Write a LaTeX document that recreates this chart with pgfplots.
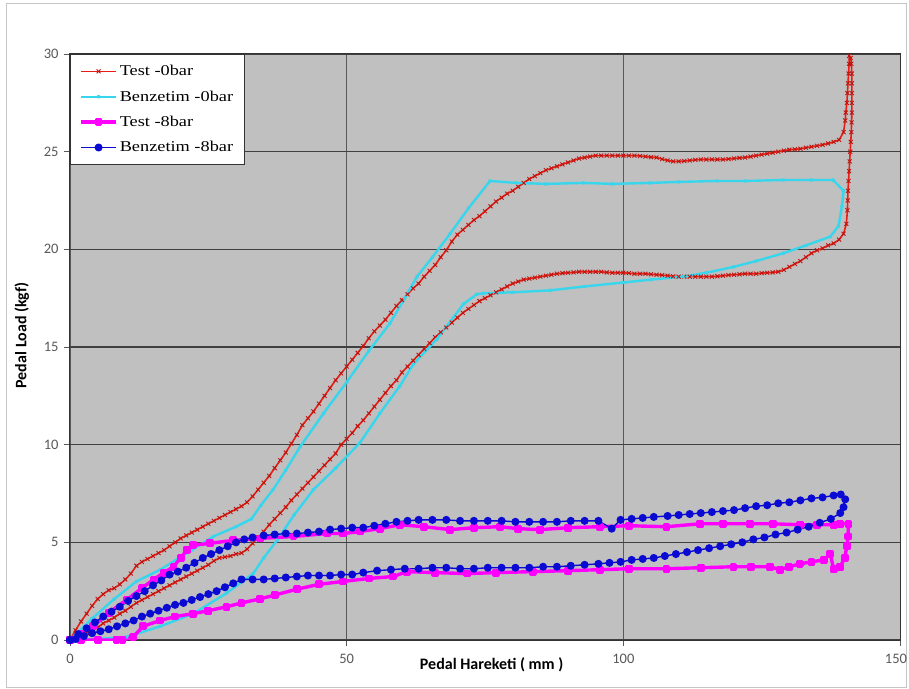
\documentclass[border=0pt]{standalone}
\usepackage{fontspec}
\setmainfont{Carlito}
\newfontfamily\legfont{Liberation Serif}[FakeStretch=1.22]
\usepackage{pgfplots}
\pgfplotsset{compat=1.18}
\definecolor{bg}{RGB}{192,192,192}
\definecolor{tred}{RGB}{232,30,20}
\definecolor{tredm}{RGB}{190,20,15}
\definecolor{bcyan}{RGB}{56,214,236}
\definecolor{tmag}{RGB}{255,0,255}
\definecolor{bblue}{RGB}{10,10,210}
\definecolor{ticklab}{RGB}{89,89,89}
\begin{document}
\begin{tikzpicture}
\useasboundingbox (-70bp,-49bp) rectangle (839bp,640bp);
\fill[white] (-70bp,-49bp) rectangle (839bp,640bp);
\draw[gray!45, line width=1bp] (-63bp,-47bp) rectangle (836bp,636bp);
\begin{axis}[
  scale only axis,
  width=830bp, height=586bp,
  xmin=0, xmax=150, ymin=0, ymax=30,
  xtick={0,50,100,150}, ytick={0,5,10,15,20,25,30},
  xticklabels={0,50,100,{\hbox to 0pt{\hss 150\kern-7bp}}},
  xtick pos=bottom, ytick pos=left,
  tick align=outside, major tick length=6bp,
  tick style={gray!70!black, line width=0.8bp},
  axis background/.style={fill=bg},
  axis line style={gray!40!black, line width=1bp},
  xmajorgrids, ymajorgrids,
  x grid style={gray!70!black, line width=0.8bp},
  y grid style={black!75, line width=1.2bp},
  /pgf/number format/assume math mode=true,
  ticklabel style={font=\fontsize{14.5bp}{17bp}\selectfont, text=ticklab},
  xticklabel style={yshift=-5bp},
  yticklabel style={xshift=-2bp},
  xlabel={Pedal Hareketi ( mm )},
  ylabel={Pedal Load (kgf)},
  label style={font=\fontsize{16bp}{19bp}\selectfont\bfseries},
  xlabel style={at={(axis description cs:0.508,-0.043)}, anchor=center},
  ylabel style={at={(axis description cs:-0.058,0.52)}, anchor=center},
  legend style={at={(0,1)}, anchor=north west, draw=black!80, fill=white,
    font=\legfont\fontsize{15bp}{17bp}\selectfont, inner xsep=9bp, inner ysep=9bp,
    row sep=9.5bp, cells={anchor=west}, line width=0.8bp},
  legend image code/.code={\draw[mark repeat=2,mark phase=2,#1] plot coordinates {(0bp,0bp) (17.5bp,0bp) (35bp,0bp)};},
  every axis plot/.append style={line join=round},
]
% Test - 0bar
\addplot[color=tred, line width=1.6bp, mark=x, mark size=2.8bp, mark options={draw=tredm, line width=0.9bp, solid}] coordinates {
(0,0) (1,0.5) (2,0.95) (3,1.35) (4,1.75) (5,2.1) (6,2.35) (7,2.55) (8,2.65) (9,2.85)
(10,3.1) (11,3.4) (12,3.8) (13,4.0) (14,4.15) (15,4.3) (16,4.45) (17,4.6) (18,4.8) (19,5.0)
(20,5.2) (21,5.35) (22,5.5) (23,5.65) (24,5.8) (25,5.95) (26,6.1) (27,6.25) (28,6.4) (29,6.55)
(30,6.7) (31,6.85) (32,7.05) (33,7.35) (34,7.7) (35,8.05) (36,8.4) (37,8.8) (38,9.2) (39,9.6)
(40,10.05) (41,10.5) (42,11.0) (43,11.35) (44,11.7) (45,12.1) (46,12.5) (47,12.9) (48,13.3) (49,13.65)
(50,14.0) (51,14.35) (52,14.7) (53,15.05) (54,15.45) (55,15.8) (56,16.1) (57,16.4) (58,16.75) (59,17.1)
(60,17.4) (61,17.7) (62,18.0) (63,18.25) (64,18.6) (65,18.9) (66,19.2) (67,19.6) (68,19.95) (69,20.4)
(70,20.75) (71,21.0) (72,21.25) (73,21.5) (74,21.7) (75,21.95) (76,22.2) (77,22.45) (78,22.65) (79,22.85)
(80,23.0) (81,23.2) (82,23.4) (83,23.6) (84,23.75) (85,23.9) (86,24.05) (87,24.15) (88,24.25) (89,24.35)
(90,24.45) (91,24.55) (92,24.65) (93,24.7) (94,24.75) (95,24.8) (96,24.8) (97,24.8) (98,24.8) (99,24.8)
(100,24.8) (101,24.8) (102,24.8) (103,24.78) (104,24.75) (105,24.72) (106,24.7) (107,24.62) (108,24.55) (109,24.5)
(110,24.5) (111,24.52) (112,24.55) (113,24.58) (114,24.6) (115,24.6) (116,24.6) (117,24.6) (118,24.6) (119,24.62)
(120,24.65) (121,24.68) (122,24.7) (123,24.75) (124,24.8) (125,24.85) (126,24.9) (127,24.95) (128,25.0) (129,25.05)
(130,25.1) (131,25.12) (132,25.15) (133,25.2) (134,25.25) (135,25.3) (136,25.35) (137,25.42) (138,25.5) (139,25.6)
(139.8,26.0) (140.1,26.6) (140.2,27) (140.4,27.5) (140.5,28) (140.6,28.5) (140.7,29) (140.8,29.5) (140.8,29.9) (141.1,29.8)
(141.2,29.5) (141.3,29) (141.3,28.5) (141.3,28) (141.3,27.5) (141.3,27) (141.25,26.5) (141.2,26) (141.1,25.5) (141.0,25)
(140.9,24.5) (140.8,24) (140.7,23.5) (140.6,23) (140.55,22.5) (140.5,22) (140.3,21.3) (139.8,20.8) (139,20.5) (138,20.3) (137,20.2) (136,20.05) (135,19.95)
(134,19.8) (133,19.6) (132,19.4) (131,19.25) (130,19.1) (129,18.95) (128,18.85) (127,18.82) (126,18.8) (125,18.78)
(124,18.75) (123,18.75) (122,18.75) (121,18.72) (120,18.7) (119,18.68) (118,18.65) (117,18.62) (116,18.6) (115,18.6)
(114,18.6) (113,18.6) (112,18.6) (111,18.6) (110,18.6) (109,18.62) (108,18.65) (107,18.68) (106,18.7) (105,18.72)
(104,18.75) (103,18.75) (102,18.75) (101,18.78) (100,18.8) (99,18.8) (98,18.8) (97,18.82) (96,18.85) (95,18.85)
(94,18.85) (93,18.85) (92,18.85) (91,18.82) (90,18.8) (89,18.78) (88,18.75) (87,18.7) (86,18.65) (85,18.6)
(84,18.55) (83,18.5) (82,18.45) (81,18.35) (80,18.25) (79,18.1) (78,17.95) (77,17.8) (76,17.65) (75,17.5)
(74,17.35) (73,17.15) (72,16.95) (71,16.75) (70,16.5) (69,16.25) (68,16.0) (67,15.75) (66,15.5) (65,15.2)
(64,14.9) (63,14.6) (62,14.3) (61,14.0) (60,13.7) (59,13.3) (58,13.0) (57,12.65) (56,12.3) (55,11.95)
(54,11.6) (53,11.25) (52,10.95) (51,10.6) (50,10.3) (49,10.0) (48,9.55) (47,9.25) (46,8.95) (45,8.65)
(44,8.35) (43,8.05) (42,7.75) (41,7.45) (40,7.15) (39,6.8) (38,6.5) (37,6.2) (36,5.9) (35,5.55)
(34,5.25) (33,4.95) (32,4.65) (31,4.45) (30,4.4) (29,4.3) (28,4.25) (27,4.2) (26,4.05) (25,3.85)
(24,3.7) (23,3.55) (22,3.4) (21,3.25) (20,3.1) (19,2.95) (18,2.8) (17,2.65) (16,2.5) (15,2.35)
(14,2.2) (13,2.05) (12,1.9) (11,1.7) (10,1.5) (9,1.35) (8,1.15) (7,1.0) (6,0.85) (5,0.65)
(4,0.5) (3,0.35) (2,0.2) (1,0.05) (0,0)
};
\addlegendentry{Test -0bar}
% Benzetim - 0bar
\addplot[color=bcyan, line width=2.4bp, mark=*, mark size=0.8bp, mark options={fill=bcyan!60!gray, draw=none}] coordinates {
(0,0) (4,1.1) (8,2.1) (12,3.0) (16.3,3.6) (22,4.6) (25.9,5.3) (30,5.8) (32.8,6.2) (34.5,6.9)
(36.7,7.7) (39,8.7) (41.6,9.9) (45.8,11.6) (50,13.2) (54,14.8) (57.8,16.2) (60.5,17.5) (62.7,18.6) (65.5,19.6)
(68.7,20.8) (72,22.1) (75.9,23.5) (80.7,23.4) (86,23.35) (92.8,23.4) (98,23.35) (104.8,23.4) (110,23.45) (116.9,23.5)
(122,23.5) (128.9,23.55) (134,23.55) (137.9,23.55) (139.8,23.0) (139.5,22.2) (138.9,21.2) (137.4,20.65) (133,20.2) (128.9,19.8)
(124,19.4) (119.9,19.1) (115,18.8) (110.8,18.6) (105,18.45) (100,18.3) (93,18.1) (86.8,17.9) (80,17.8) (74.7,17.75)
(73.5,17.7) (71.1,17.2) (66.3,15.4) (62,14.1) (59.6,13.0) (56,11.6) (52.4,10.1) (48,8.8) (44,7.7) (40.5,6.4)
(37.4,5.1) (35,4.2) (33.1,3.4) (28.3,2.4) (22.3,1.35) (16.3,0.7) (10.2,0.15) (5,0.05) (0,0)
};
\addlegendentry{Benzetim -0bar}
% Test - 8bar
\addplot[color=tmag, line width=3.4bp, mark=square*, mark size=2.2bp, mark options={solid, draw=tmag, fill=tmag}] coordinates {
(0,0) (2,0.3) (4.2,0.7) (7,1.4) (10.2,2.05) (13,2.65) (15.1,3.1) (17,3.45) (18.7,3.75) (20,4.2)
(21.1,4.6) (22.3,4.85) (25.3,4.95) (29.5,5.1) (34.3,5.2) (40.4,5.3) (46.4,5.45) (49.4,5.45) (52.4,5.55) (56,5.7)
(59.6,5.9) (64,5.8) (68.7,5.65) (73,5.75) (77.7,5.8) (81,5.7) (84.9,5.65) (90,5.75) (95.8,5.8) (101,5.85)
(107.8,5.8) (113.9,5.95) (118,5.95) (122.9,5.95) (127,5.95) (131.9,5.9) (135,5.9) (138,5.9) (139.2,5.95) (140.7,5.95)
(140.6,5.3) (140.4,4.8) (140,4.2) (139.2,3.75) (138,3.65) (137.4,4.4) (136.2,4.1) (134,4.0) (131.9,3.9) (130,3.75)
(128.3,3.6) (126.5,3.75) (123,3.75) (119.9,3.75) (114,3.7) (107.8,3.65) (101,3.65) (95.8,3.6) (90,3.55) (83.7,3.5)
(77,3.45) (71.7,3.4) (66,3.45) (60.9,3.5) (58.4,3.25) (54,3.15) (49.4,3.0) (45,2.85) (41,2.6) (37,2.3)
(34.3,2.1) (31,1.9) (28.3,1.7) (25,1.5) (22.3,1.35) (19,1.2) (16.3,1.0) (13.2,0.7) (11.4,0.15) (9.5,0.0)
(8.4,0.0) (5,0.0) (2,0.0) (0,0)
};
\addlegendentry{Test -8bar}
% Benzetim - 8bar
\addplot[color=bblue, line width=1.4bp, mark=*, mark size=3.3bp, mark options={solid, draw=bblue, fill=bblue}] coordinates {
(0,0) (1.5,0.3) (3,0.6) (4.5,0.9) (6,1.2) (7.5,1.45) (9,1.7) (10.5,2.0) (12,2.25) (13.5,2.5)
(15,2.8) (16.5,3.05) (18,3.35) (19.5,3.5) (21,3.7) (22.5,3.95) (24,4.2) (25.5,4.4) (27,4.6) (28.5,4.8)
(30,5.0) (31.5,5.15) (33,5.25) (35,5.35) (37,5.4) (39,5.45) (41,5.45) (43,5.5) (45,5.55) (47,5.65)
(49,5.7) (51,5.75) (53,5.75) (55,5.85) (57,5.95) (59,6.05) (61,6.1) (63,6.15) (65.5,6.15) (68,6.15)
(70.5,6.1) (73,6.1) (75.5,6.1) (78,6.1) (80.5,6.05) (83,6.05) (85.5,6.05) (88,6.05) (90.5,6.1) (93,6.1)
(95.5,6.1) (97.9,5.7) (99.5,6.15) (101.5,6.2) (103.5,6.25) (105.5,6.3) (108,6.35) (110,6.4) (112,6.45) (114,6.5)
(116,6.55) (118,6.6) (120,6.65) (122,6.75) (124,6.85) (126,6.9) (128,7.0) (130,7.05) (132,7.15) (134,7.25)
(136,7.3) (138,7.4) (139.3,7.45) (140.1,7.2) (139.8,6.8) (139.2,6.5) (137.5,6.2) (135.5,6.0) (133.5,5.8) (131.5,5.65)
(129.5,5.5) (127.5,5.4) (125.5,5.25) (123.5,5.15) (121.5,5.0) (119.5,4.9) (117.5,4.8) (115.5,4.7) (113.5,4.6) (111.5,4.5)
(109.5,4.4) (107.5,4.3) (105.5,4.2) (103.5,4.15) (101.5,4.1) (99.5,4.0) (97.5,3.95) (95.5,3.9) (93,3.85) (90.5,3.8)
(88,3.75) (85.5,3.75) (83,3.7) (80.5,3.7) (78,3.7) (75.5,3.7) (73,3.65) (70.5,3.65) (68,3.7) (65.5,3.7)
(63,3.65) (60.5,3.65) (58,3.6) (55.5,3.55) (53,3.45) (51,3.35) (49,3.35) (47,3.3) (45,3.3) (43,3.3)
(41,3.25) (39,3.2) (37,3.15) (35,3.1) (33,3.1) (31,3.1) (29.5,2.9) (28,2.7) (26.5,2.5) (25,2.35)
(23.5,2.2) (22,2.05) (20.5,1.9) (19,1.8) (17.5,1.65) (16,1.5) (14.5,1.35) (13,1.2) (11.5,1.0) (10,0.85)
(8.5,0.7) (7,0.55) (5.5,0.45) (4,0.35) (2.5,0.2) (1,0.05) (0,0)
};
\addlegendentry{Benzetim -8bar}
\end{axis}
\end{tikzpicture}
\end{document}
